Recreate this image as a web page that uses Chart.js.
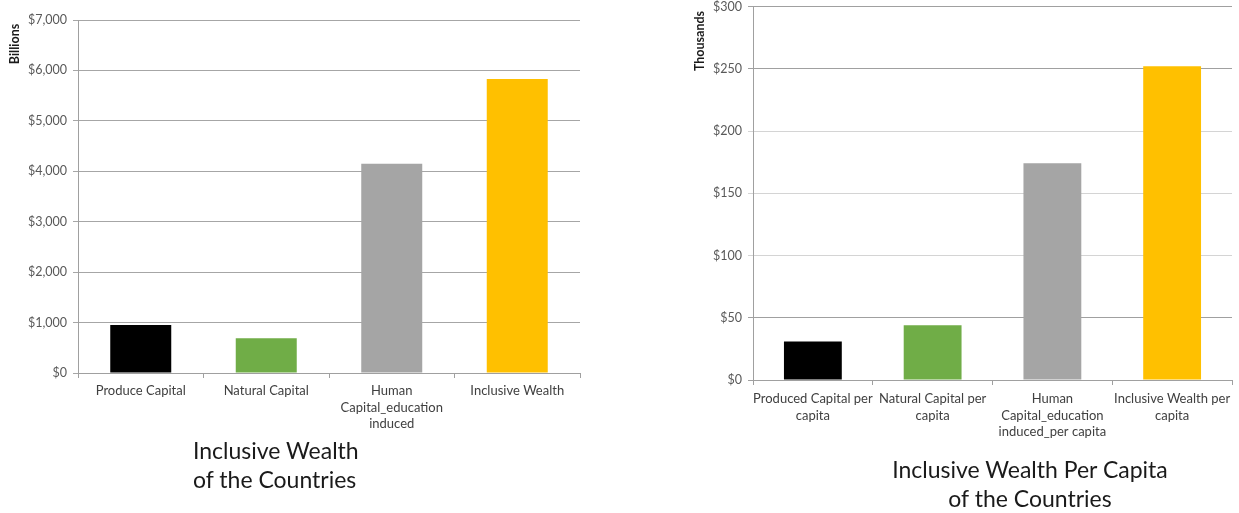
<!DOCTYPE html>
<html>
<head>
<meta charset="utf-8">
<script src="https://cdn.jsdelivr.net/npm/chart.js@4.4.1/dist/chart.umd.min.js"></script>
<style>
  html, body { margin: 0; padding: 0; background: #ffffff; }
  #wrap { position: relative; width: 1239px; height: 513px; overflow: hidden; font-family: Lato, "Open Sans", sans-serif; }
  #c1box { position: absolute; left: 0; top: 0; width: 600px; height: 440px; }
  #c2box { position: absolute; left: 660px; top: -7px; width: 579px; height: 467px; }
  .title { position: absolute; font-family: Lato, "Open Sans", sans-serif; font-size: 23px; line-height: 29px; color: #1a1a1a; }
  #t1 { left: 193px; top: 436px; text-align: left; }
  #t2 { left: 880px; top: 455px; width: 300px; text-align: center; }
</style>
</head>
<body>
<div id="wrap">
  <div id="c1box"><canvas id="c1" width="600" height="440"></canvas></div>
  <div id="c2box"><canvas id="c2" width="579" height="467"></canvas></div>
  <div class="title" id="t1">Inclusive Wealth<br>of the Countries</div>
  <div class="title" id="t2">Inclusive Wealth Per Capita<br>of the Countries</div>
</div>
<script>
// ---- Data: left chart (Billions) ----
const leftCategories = ['Produce Capital', 'Natural Capital', ['Human', 'Capital_education', 'induced'], 'Inclusive Wealth'];
const leftValues = [950, 690, 4150, 5830];
const leftTickValues = [0, 1000, 2000, 3000, 4000, 5000, 6000, 7000];
const leftUnit = 'Billions';

// ---- Data: right chart (Thousands) ----
const rightCategories = [['Produced Capital per', 'capita'], ['Natural Capital per', 'capita'], ['Human', 'Capital_education', 'induced_per capita'], ['Inclusive Wealth per', 'capita']];
const rightValues = [31, 44, 174, 252];
const rightTickValues = [0, 50, 100, 150, 200, 250, 300];
const rightUnit = 'Thousands';

const barColors = ['#000000', '#70ad47', '#a5a5a5', '#ffc000'];

const unitLabelPlugin = {
  id: 'unitLabel',
  afterDraw(chart, args, opts) {
    const ctx = chart.ctx;
    ctx.save();
    ctx.translate(opts.x, opts.y);
    ctx.rotate(-Math.PI / 2);
    ctx.font = 'bold 12.5px Lato, "Open Sans", sans-serif';
    ctx.fillStyle = '#1a1a1a';
    ctx.textAlign = 'center';
    ctx.textBaseline = 'middle';
    ctx.fillText(opts.text, 0, 0);
    ctx.restore();
  }
};

function fmt(v) { return '$' + Number(v).toLocaleString('en-US'); }

function makeChart(id, cats, vals, tickVals, unit, cfg) {
  return new Chart(document.getElementById(id), {
    type: 'bar',
    data: {
      labels: cats,
      datasets: [{
        data: vals,
        backgroundColor: barColors,
        borderWidth: 0,
        categoryPercentage: 1,
        barPercentage: cfg.barPct
      }]
    },
    plugins: [unitLabelPlugin],
    options: {
      responsive: false,
      devicePixelRatio: 1,
      animation: false,
      layout: { padding: cfg.padding },
      plugins: {
        legend: { display: false },
        tooltip: { enabled: false },
        unitLabel: { text: unit, x: cfg.unitX, y: cfg.unitY }
      },
      scales: {
        x: {
          offset: true,
          grid: { display: true, drawOnChartArea: false, drawTicks: true, tickLength: 5, color: '#a0a0a0', offset: true },
          border: { display: true, color: '#a0a0a0', width: 1 },
          ticks: {
            color: '#404040',
            font: { family: 'Lato, "Open Sans", sans-serif', size: 13, lineHeight: 1.3 },
            padding: cfg.xPad,
            maxRotation: 0,
            autoSkip: false
          },
          afterFit(scale) { scale.height = cfg.xHeight; }
        },
        y: {
          min: tickVals[0],
          max: tickVals[tickVals.length - 1],
          afterBuildTicks(scale) { scale.ticks = tickVals.map(v => ({ value: v })); },
          grid: {
            drawTicks: true,
            tickLength: 5,
            color: cfg.gridColor
          },
          border: { display: true, color: '#a0a0a0', width: 1 },
          ticks: {
            color: '#595959',
            font: { family: 'Lato, "Open Sans", sans-serif', size: 12.5 },
            padding: 6,
            callback: (v) => fmt(v)
          },
          afterFit(scale) { scale.width = cfg.yWidth; }
        }
      }
    }
  });
}

makeChart('c1', leftCategories, leftValues, leftTickValues, leftUnit, {
  barPct: 0.486,
  padding: { top: 20, right: 20, left: 0, bottom: 0 },
  xHeight: 67,
  xPad: 4,
  yWidth: 78,
  unitX: 15, unitY: 44,
  gridColor: '#a6a6a6'
});

makeChart('c2', rightCategories, rightValues, rightTickValues, rightUnit, {
  barPct: 0.483,
  padding: { top: 6, right: 7, left: 0, bottom: 0 },
  xHeight: 80,
  xPad: 5,
  yWidth: 93,
  unitX: 40, unitY: 48,
  gridColor: (ctx) => {
    const v = ctx.tick ? ctx.tick.value : 0;
    return (v === 250 || v === 50 || v === 300 || v === 0) ? '#a0a0a0' : '#d4d4d4';
  }
});
</script>
</body>
</html>
